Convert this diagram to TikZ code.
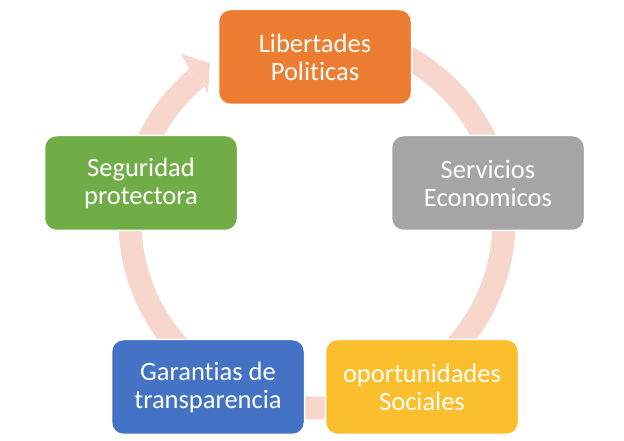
\documentclass[tikz,border=0pt]{standalone}
\usepackage{fontspec}
\setmainfont{Carlito}[Ligatures={NoCommon}]
\usepackage{tikz}

\definecolor{naranja}{HTML}{ED7D31}
\definecolor{gris}{HTML}{A5A5A5}
\definecolor{amarillo}{HTML}{FBBF2D}
\definecolor{azul}{HTML}{4472C4}
\definecolor{verde}{HTML}{70AD47}
\definecolor{rosa}{HTML}{F7D7CD}

\begin{document}
\begin{tikzpicture}[x=1pt, y=1pt]
			\tikzset{caja/.style={rectangle, rounded corners=12pt, draw=white, line width=1.5pt, minimum width=193pt, minimum height=95pt, text=white, align=center, font=\fontsize{26.5}{28}\selectfont},
			anillo/.style={draw=rosa, line width=23pt}};

			\useasboundingbox (0,0) rectangle (624,441);
			\coordinate (c) at (317,220);

			% anillo y punta de flecha
			\draw[anillo] ([shift={(c)}]80:187) arc[start angle=80, end angle=-230, radius=187];
			\fill[rosa] ([shift={(c)}]130:198.5) -- (181,387) -- (210,378) -- (208,348) -- ([shift={(c)}]130:175.5) -- cycle;

			\foreach \name/\x/\y/\col/\txt in {lib/315/384/naranja/{Libertades\\Politicas}, ser/488/258/gris/{Servicios\\Economicos}, opo/422/54/amarillo/{oportunidades\\Sociales}, gar/208/54/azul/{Garantias de\\transparencia}, seg/141/258/verde/{Seguridad\\protectora}}{
				\node[caja, fill=\col] (\name) at (\x, \y) {\txt};
			}

		\end{tikzpicture}
\end{document}
